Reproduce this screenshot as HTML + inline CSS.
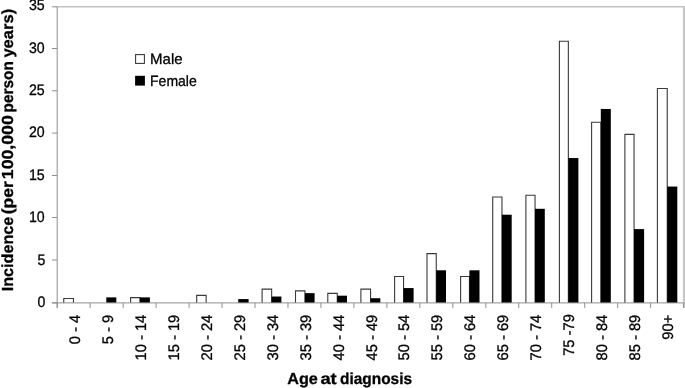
<!DOCTYPE html>
<html><head><meta charset="utf-8"><title>Incidence by age at diagnosis</title>
<style>html,body{margin:0;padding:0;background:#fff;overflow:hidden}svg text{stroke:#000;stroke-width:0.3px;stroke-linejoin:round}</style></head>
<body>
<svg width="685" height="388" viewBox="0 0 685 388" style="display:block" text-rendering="geometricPrecision">
<rect width="685" height="388" fill="#fff"/>
<path d="M57.2 6.8 H683.9" fill="none" stroke="#c4c4c4" stroke-width="1.4"/>
<rect x="682.9" y="6.1" width="2.2" height="301.80" fill="#c6c6c6"/>
<path d="M63.76 302.9 V298.47 H73.45 V302.9" fill="#fff" stroke="#3a3a3a" stroke-width="1.1"/>
<rect x="106.30" y="297.37" width="10.00" height="5.53" fill="#000"/>
<path d="M130.60 302.9 V297.62 H139.95 V302.9" fill="#fff" stroke="#3a3a3a" stroke-width="1.1"/>
<rect x="139.90" y="297.37" width="10.00" height="5.53" fill="#000"/>
<path d="M196.70 302.9 V295.42 H206.15 V302.9" fill="#fff" stroke="#3a3a3a" stroke-width="1.1"/>
<rect x="238.20" y="299.07" width="10.40" height="3.83" fill="#000"/>
<path d="M262.10 302.9 V289.16 H271.65 V302.9" fill="#fff" stroke="#3a3a3a" stroke-width="1.1"/>
<rect x="271.60" y="296.53" width="9.80" height="6.37" fill="#000"/>
<path d="M295.50 302.9 V290.86 H304.95 V302.9" fill="#fff" stroke="#3a3a3a" stroke-width="1.1"/>
<rect x="304.90" y="293.14" width="9.70" height="9.76" fill="#000"/>
<path d="M327.80 302.9 V293.39 H337.25 V302.9" fill="#fff" stroke="#3a3a3a" stroke-width="1.1"/>
<rect x="337.20" y="295.68" width="9.80" height="7.22" fill="#000"/>
<path d="M360.90 302.9 V289.16 H370.55 V302.9" fill="#fff" stroke="#3a3a3a" stroke-width="1.1"/>
<rect x="370.50" y="298.22" width="9.80" height="4.68" fill="#000"/>
<path d="M394.60 302.9 V276.47 H403.55 V302.9" fill="#fff" stroke="#3a3a3a" stroke-width="1.1"/>
<rect x="403.50" y="288.07" width="10.10" height="14.83" fill="#000"/>
<path d="M427.00 302.9 V253.63 H436.25 V302.9" fill="#fff" stroke="#3a3a3a" stroke-width="1.1"/>
<rect x="436.20" y="270.30" width="9.80" height="32.60" fill="#000"/>
<path d="M460.60 302.9 V276.47 H469.45 V302.9" fill="#fff" stroke="#3a3a3a" stroke-width="1.1"/>
<rect x="469.40" y="270.30" width="10.10" height="32.60" fill="#000"/>
<path d="M492.70 302.9 V196.95 H501.95 V302.9" fill="#fff" stroke="#3a3a3a" stroke-width="1.1"/>
<rect x="501.90" y="214.72" width="9.80" height="88.18" fill="#000"/>
<path d="M525.90 302.9 V195.26 H535.05 V302.9" fill="#fff" stroke="#3a3a3a" stroke-width="1.1"/>
<rect x="535.00" y="208.80" width="9.80" height="94.10" fill="#000"/>
<path d="M559.40 302.9 V41.29 H568.35 V302.9" fill="#fff" stroke="#3a3a3a" stroke-width="1.1"/>
<rect x="568.30" y="158.04" width="10.10" height="144.86" fill="#000"/>
<path d="M591.60 302.9 V122.25 H600.85 V302.9" fill="#fff" stroke="#3a3a3a" stroke-width="1.1"/>
<rect x="600.80" y="108.97" width="10.00" height="193.93" fill="#000"/>
<path d="M624.90 302.9 V134.35 H634.05 V302.9" fill="#fff" stroke="#3a3a3a" stroke-width="1.1"/>
<rect x="634.00" y="229.10" width="10.10" height="73.80" fill="#000"/>
<path d="M657.40 302.9 V88.49 H667.25 V302.9" fill="#fff" stroke="#3a3a3a" stroke-width="1.1"/>
<rect x="667.20" y="186.55" width="10.10" height="116.35" fill="#000"/>
<path d="M57.2 6.8 V307.9" stroke="#8e8e8e" stroke-width="1" fill="none"/>
<path d="M52.2 302.9 H683.6" stroke="#8e8e8e" stroke-width="1" fill="none"/>
<path d="M51.900000000000006 302.90 H57.2" stroke="#8e8e8e" stroke-width="1"/>
<text x="37.52" y="306.65" textLength="7.88" lengthAdjust="spacingAndGlyphs" font-family='"Liberation Sans", "DejaVu Sans", sans-serif' font-size="15.3" fill="#000">0</text>
<path d="M51.900000000000006 260.00 H57.2" stroke="#8e8e8e" stroke-width="1"/>
<text x="37.52" y="264.55" textLength="7.88" lengthAdjust="spacingAndGlyphs" font-family='"Liberation Sans", "DejaVu Sans", sans-serif' font-size="15.3" fill="#000">5</text>
<path d="M51.900000000000006 217.50 H57.2" stroke="#8e8e8e" stroke-width="1"/>
<text x="28.95" y="222.45" textLength="15.75" lengthAdjust="spacingAndGlyphs" font-family='"Liberation Sans", "DejaVu Sans", sans-serif' font-size="15.3" fill="#000">10</text>
<path d="M51.900000000000006 175.50 H57.2" stroke="#8e8e8e" stroke-width="1"/>
<text x="28.95" y="180.00" textLength="15.75" lengthAdjust="spacingAndGlyphs" font-family='"Liberation Sans", "DejaVu Sans", sans-serif' font-size="15.3" fill="#000">15</text>
<path d="M51.900000000000006 133.10 H57.2" stroke="#8e8e8e" stroke-width="1"/>
<text x="28.95" y="137.25" textLength="15.75" lengthAdjust="spacingAndGlyphs" font-family='"Liberation Sans", "DejaVu Sans", sans-serif' font-size="15.3" fill="#000">20</text>
<path d="M51.900000000000006 90.80 H57.2" stroke="#8e8e8e" stroke-width="1"/>
<text x="28.95" y="94.85" textLength="15.75" lengthAdjust="spacingAndGlyphs" font-family='"Liberation Sans", "DejaVu Sans", sans-serif' font-size="15.3" fill="#000">25</text>
<path d="M51.900000000000006 48.50 H57.2" stroke="#8e8e8e" stroke-width="1"/>
<text x="28.95" y="52.95" textLength="15.75" lengthAdjust="spacingAndGlyphs" font-family='"Liberation Sans", "DejaVu Sans", sans-serif' font-size="15.3" fill="#000">30</text>
<path d="M51.900000000000006 6.80 H57.2" stroke="#8e8e8e" stroke-width="1"/>
<text x="28.95" y="10.40" textLength="15.75" lengthAdjust="spacingAndGlyphs" font-family='"Liberation Sans", "DejaVu Sans", sans-serif' font-size="15.3" fill="#000">35</text>
<path d="M57.20 302.9 V307.9" stroke="#8e8e8e" stroke-width="1"/>
<path d="M90.17 302.9 V307.9" stroke="#8e8e8e" stroke-width="1"/>
<path d="M123.14 302.9 V307.9" stroke="#8e8e8e" stroke-width="1"/>
<path d="M156.11 302.9 V307.9" stroke="#8e8e8e" stroke-width="1"/>
<path d="M189.07 302.9 V307.9" stroke="#8e8e8e" stroke-width="1"/>
<path d="M222.04 302.9 V307.9" stroke="#8e8e8e" stroke-width="1"/>
<path d="M255.01 302.9 V307.9" stroke="#8e8e8e" stroke-width="1"/>
<path d="M287.98 302.9 V307.9" stroke="#8e8e8e" stroke-width="1"/>
<path d="M320.95 302.9 V307.9" stroke="#8e8e8e" stroke-width="1"/>
<path d="M353.92 302.9 V307.9" stroke="#8e8e8e" stroke-width="1"/>
<path d="M386.88 302.9 V307.9" stroke="#8e8e8e" stroke-width="1"/>
<path d="M419.85 302.9 V307.9" stroke="#8e8e8e" stroke-width="1"/>
<path d="M452.82 302.9 V307.9" stroke="#8e8e8e" stroke-width="1"/>
<path d="M485.79 302.9 V307.9" stroke="#8e8e8e" stroke-width="1"/>
<path d="M518.76 302.9 V307.9" stroke="#8e8e8e" stroke-width="1"/>
<path d="M551.73 302.9 V307.9" stroke="#8e8e8e" stroke-width="1"/>
<path d="M584.69 302.9 V307.9" stroke="#8e8e8e" stroke-width="1"/>
<path d="M617.66 302.9 V307.9" stroke="#8e8e8e" stroke-width="1"/>
<path d="M650.63 302.9 V307.9" stroke="#8e8e8e" stroke-width="1"/>
<path d="M683.60 302.9 V307.9" stroke="#8e8e8e" stroke-width="1"/>
<text transform="translate(79.78,344.16) rotate(-90)" textLength="29.36" lengthAdjust="spacingAndGlyphs" font-family='"Liberation Sans", "DejaVu Sans", sans-serif' font-size="15.3" fill="#000">0 - 4</text>
<text transform="translate(112.75,344.16) rotate(-90)" textLength="29.36" lengthAdjust="spacingAndGlyphs" font-family='"Liberation Sans", "DejaVu Sans", sans-serif' font-size="15.3" fill="#000">5 - 9</text>
<text transform="translate(145.72,360.48) rotate(-90)" textLength="45.68" lengthAdjust="spacingAndGlyphs" font-family='"Liberation Sans", "DejaVu Sans", sans-serif' font-size="15.3" fill="#000">10 - 14</text>
<text transform="translate(178.69,360.48) rotate(-90)" textLength="45.68" lengthAdjust="spacingAndGlyphs" font-family='"Liberation Sans", "DejaVu Sans", sans-serif' font-size="15.3" fill="#000">15 - 19</text>
<text transform="translate(211.66,360.48) rotate(-90)" textLength="45.68" lengthAdjust="spacingAndGlyphs" font-family='"Liberation Sans", "DejaVu Sans", sans-serif' font-size="15.3" fill="#000">20 - 24</text>
<text transform="translate(244.63,360.48) rotate(-90)" textLength="45.68" lengthAdjust="spacingAndGlyphs" font-family='"Liberation Sans", "DejaVu Sans", sans-serif' font-size="15.3" fill="#000">25 - 29</text>
<text transform="translate(277.59,360.48) rotate(-90)" textLength="45.68" lengthAdjust="spacingAndGlyphs" font-family='"Liberation Sans", "DejaVu Sans", sans-serif' font-size="15.3" fill="#000">30 - 34</text>
<text transform="translate(310.56,360.48) rotate(-90)" textLength="45.68" lengthAdjust="spacingAndGlyphs" font-family='"Liberation Sans", "DejaVu Sans", sans-serif' font-size="15.3" fill="#000">35 - 39</text>
<text transform="translate(343.53,360.48) rotate(-90)" textLength="45.68" lengthAdjust="spacingAndGlyphs" font-family='"Liberation Sans", "DejaVu Sans", sans-serif' font-size="15.3" fill="#000">40 - 44</text>
<text transform="translate(376.50,360.48) rotate(-90)" textLength="45.68" lengthAdjust="spacingAndGlyphs" font-family='"Liberation Sans", "DejaVu Sans", sans-serif' font-size="15.3" fill="#000">45 - 49</text>
<text transform="translate(409.47,360.48) rotate(-90)" textLength="45.68" lengthAdjust="spacingAndGlyphs" font-family='"Liberation Sans", "DejaVu Sans", sans-serif' font-size="15.3" fill="#000">50 - 54</text>
<text transform="translate(442.44,360.48) rotate(-90)" textLength="45.68" lengthAdjust="spacingAndGlyphs" font-family='"Liberation Sans", "DejaVu Sans", sans-serif' font-size="15.3" fill="#000">55 - 59</text>
<text transform="translate(475.41,360.48) rotate(-90)" textLength="45.68" lengthAdjust="spacingAndGlyphs" font-family='"Liberation Sans", "DejaVu Sans", sans-serif' font-size="15.3" fill="#000">60 - 64</text>
<text transform="translate(508.37,360.48) rotate(-90)" textLength="45.68" lengthAdjust="spacingAndGlyphs" font-family='"Liberation Sans", "DejaVu Sans", sans-serif' font-size="15.3" fill="#000">65 - 69</text>
<text transform="translate(541.34,360.48) rotate(-90)" textLength="45.68" lengthAdjust="spacingAndGlyphs" font-family='"Liberation Sans", "DejaVu Sans", sans-serif' font-size="15.3" fill="#000">70 - 74</text>
<text transform="translate(574.31,355.80) rotate(-90)" textLength="41.60" lengthAdjust="spacingAndGlyphs" font-family='"Liberation Sans", "DejaVu Sans", sans-serif' font-size="15.3" fill="#000">75 -79</text>
<text transform="translate(607.28,360.48) rotate(-90)" textLength="45.68" lengthAdjust="spacingAndGlyphs" font-family='"Liberation Sans", "DejaVu Sans", sans-serif' font-size="15.3" fill="#000">80 - 84</text>
<text transform="translate(640.25,360.48) rotate(-90)" textLength="45.68" lengthAdjust="spacingAndGlyphs" font-family='"Liberation Sans", "DejaVu Sans", sans-serif' font-size="15.3" fill="#000">85 - 89</text>
<text transform="translate(673.22,339.68) rotate(-90)" textLength="24.88" lengthAdjust="spacingAndGlyphs" font-family='"Liberation Sans", "DejaVu Sans", sans-serif' font-size="15.3" fill="#000">90+</text>
<text y="383.8" font-family='"Liberation Sans", "DejaVu Sans", sans-serif' font-size="16" font-weight="bold" fill="#000"><tspan x="287.2" textLength="30.6" lengthAdjust="spacingAndGlyphs">Age</tspan> <tspan x="320.4" textLength="16.3" lengthAdjust="spacingAndGlyphs">at</tspan> <tspan x="340.0" textLength="72.0" lengthAdjust="spacingAndGlyphs">diagnosis</tspan></text>
<text transform="translate(13.3,0) rotate(-90)" y="0" font-family='"Liberation Sans", "DejaVu Sans", sans-serif' font-size="16" font-weight="bold" fill="#000"><tspan x="-291.3" textLength="74.6" lengthAdjust="spacingAndGlyphs">Incidence</tspan> <tspan x="-214.3" textLength="33.0" lengthAdjust="spacingAndGlyphs">(per</tspan> <tspan x="-179.2" textLength="64.0" lengthAdjust="spacingAndGlyphs">100,000</tspan> <tspan x="-112.4" textLength="51.3" lengthAdjust="spacingAndGlyphs">person</tspan> <tspan x="-57.6" textLength="48.8" lengthAdjust="spacingAndGlyphs">years)</tspan></text>
<rect x="135.6" y="54.6" width="8.8" height="8.8" fill="#fff" stroke="#333" stroke-width="1.05"/>
<text x="150" y="63.9" textLength="32.6" lengthAdjust="spacingAndGlyphs" font-family='"Liberation Sans", "DejaVu Sans", sans-serif' font-size="14.9" fill="#000">Male</text>
<rect x="135.1" y="75.8" width="9.8" height="9.8" fill="#000"/>
<text x="150" y="85.9" textLength="46.8" lengthAdjust="spacingAndGlyphs" font-family='"Liberation Sans", "DejaVu Sans", sans-serif' font-size="14.9" fill="#000">Female</text>
</svg>
</body></html>
